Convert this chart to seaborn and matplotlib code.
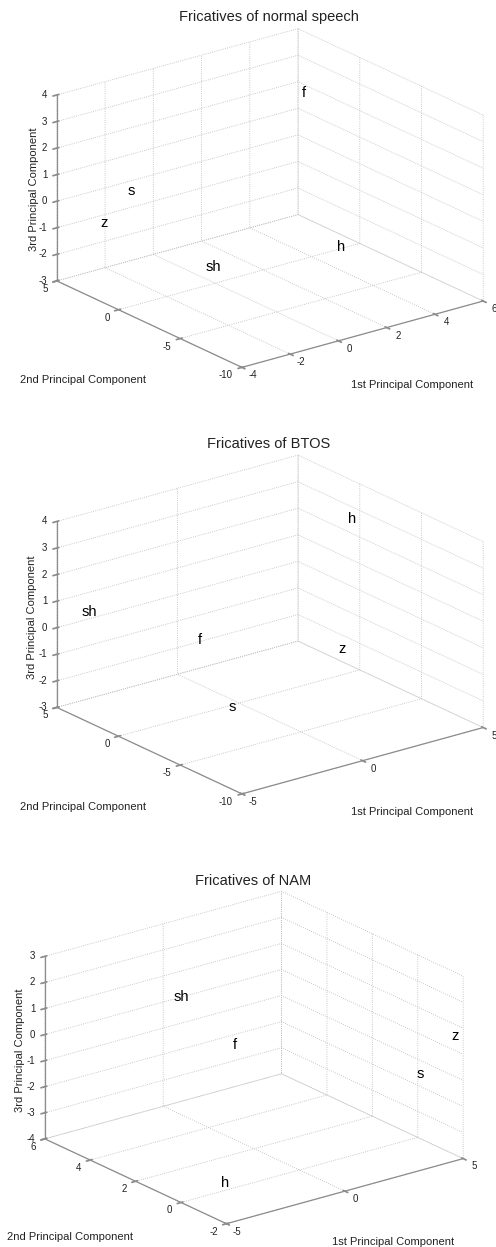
import matplotlib
matplotlib.use("Agg")
import matplotlib.pyplot as plt
from mpl_toolkits.mplot3d import proj3d
import seaborn as sns
import numpy as np

sns.set_theme(style="white", rc={
    "grid.linestyle": ":",
    "grid.color": "#b8b8b8",
    "grid.linewidth": 0.6,
})
plt.rcParams["font.family"] = ["Liberation Sans", "DejaVu Sans"]
plt.rcParams["axes.unicode_minus"] = False

# Fricative positions in the space of the first three principal components
phonemes_normal = ["f", "s", "z", "sh", "h"]
pc1_normal = [3.1, -2.6, -3.2, -1.4, 3.0]
pc2_normal = [-1.0, 2.0, 3.0, -2.0, -4.0]
pc3_normal = [3.6, 0.7, -0.6, -1.6, -1.5]

phonemes_btos = ["h", "sh", "f", "z", "s"]
pc1_btos = [4.5, -4.5, -1.7, 3.1, -3.0]
pc2_btos = [0.0, 4.0, 0.0, -2.0, -5.0]
pc3_btos = [2.8, 0.7, -0.2, -1.3, -1.3]

phonemes_nam = ["sh", "f", "z", "s", "h"]
pc1_nam = [-1.5, -0.9, 4.7, 4.0, -3.1]
pc2_nam = [4.0, 2.0, -1.8, -1.0, 0.2]
pc3_nam = [1.4, 0.2, 0.7, -0.9, -3.8]

# Axis ranges and ticks per panel
titles = ["Fricatives of normal speech", "Fricatives of BTOS", "Fricatives of NAM"]
xlims = [(-4, 6), (-5, 5), (-5, 5)]
ylims = [(-10, 5), (-10, 5), (-2, 6)]
zlims = [(-3, 4), (-3, 4), (-4, 3)]
xticks = [[-4, -2, 0, 2, 4, 6], [-5, 0, 5], [-5, 0, 5]]
yticks = [[-10, -5, 0, 5], [-10, -5, 0, 5], [-2, 0, 2, 4, 6]]
zticks = [list(range(-3, 5)), list(range(-3, 5)), list(range(-4, 4))]

panels = [
    (phonemes_normal, pc1_normal, pc2_normal, pc3_normal),
    (phonemes_btos, pc1_btos, pc2_btos, pc3_btos),
    (phonemes_nam, pc1_nam, pc2_nam, pc3_nam),
]

W, H = 496, 1247
fig = plt.figure(figsize=(W / 100, H / 100), dpi=100)

# layout (pixels, top-origin): centre of the projected box, square size, zoom
S = 380
centres = [(270, 198), (270, 624.5), (254, 1057.5)]
zooms = [1.07 * 430 / S, 1.07 * 430 / S, 1.05 * 430 / S]
title_pos = [(269, 17), (269, 444), (253, 881)]
lab2_pos = [(83, 380), (83, 807), (70, 1237)]
lab1_pos = [(412, 385), (412, 812), (393, 1242)]
lab3_pos = [(34, 189), (32, 617), (20, 1050)]

axis_grey = "#8c8c8c"
text_dark = "#222222"
tick_fs = 7


def label_at(ax, x, y, z, s, **kw):
    """Write a label at a 3-D data point, projected with the axes' view."""
    px, py, _ = proj3d.proj_transform(x, y, z, ax.get_proj())
    return ax.text2D(px, py, s, transform=ax.transData, **kw)


for i, (labels, xs, ys, zs) in enumerate(panels):
    cx, cy = centres[i]
    left = (cx - 0.5135 * S) / W
    bottom = ((H - cy) - 0.5135 * S) / H
    ax = fig.add_axes([left, bottom, S / W, S / H], projection="3d")
    ax.set_proj_type("ortho")
    ax.view_init(elev=21, azim=-127.5)
    ax.set_box_aspect((1, 1, 0.655), zoom=zooms[i])

    x0, x1 = xlims[i]
    y0, y1 = ylims[i]
    z0, z1 = zlims[i]
    xr, yr, zr = x1 - x0, y1 - y0, z1 - z0
    ax.set_xlim(x0, x1)
    ax.set_ylim(y0, y1)
    ax.set_zlim(z0, z1)
    ax.set_xticks(xticks[i])
    ax.set_yticks(yticks[i])
    ax.set_zticks(zticks[i])

    # built-in tick labels are replaced by the texts drawn below
    ax.tick_params(axis="both", colors=axis_grey, labelbottom=False,
                   labelleft=False)
    ax.tick_params(axis="z", colors=axis_grey, labelleft=False)

    for axis in (ax.xaxis, ax.yaxis, ax.zaxis):
        axis.set_pane_color((1, 1, 1, 0))
        axis.pane.set_edgecolor("none")
        axis.line.set_color(axis_grey)
        axis.line.set_linewidth(0.9)
        axis.label.set_visible(False)
        axis.offsetText.set_visible(False)
    for t in (ax.title, ax._left_title, ax._right_title):
        t.set_visible(False)
    ax.grid(True)

    # tick labels placed just outside the front edges of the box
    for t in xticks[i]:
        label_at(ax, t, y0 - 0.06 * yr, z0 - 0.015 * zr, str(t), ha="center",
                 va="center", fontsize=tick_fs, color=text_dark)
    for t in yticks[i]:
        label_at(ax, x0 - 0.037 * xr, t, z0 - 0.03 * zr, str(t), ha="right",
                 va="center", fontsize=tick_fs, color=text_dark)
    for t in zticks[i]:
        label_at(ax, x0 - 0.025 * xr, y1 + 0.019 * yr, t, str(t), ha="right",
                 va="center", fontsize=tick_fs, color=text_dark)

    for lab, x, y, z in zip(labels, xs, ys, zs):
        label_at(ax, x, y, z, lab, ha="left", va="center", fontsize=10.5,
                 color="black")

    tx, ty = title_pos[i]
    fig.text(tx / W, 1 - ty / H, titles[i], ha="center", va="center",
             fontsize=10.5, color=text_dark)
    lx, ly = lab2_pos[i]
    fig.text(lx / W, 1 - ly / H, "2nd Principal Component", ha="center",
             va="center", fontsize=8, color=text_dark)
    lx, ly = lab1_pos[i]
    fig.text(lx / W, 1 - ly / H, "1st Principal Component", ha="center",
             va="center", fontsize=8, color=text_dark)
    lx, ly = lab3_pos[i]
    fig.text(lx / W, 1 - ly / H, "3rd Principal Component", ha="center",
             va="center", rotation=90, fontsize=8, color=text_dark)

fig.savefig("out.png", dpi=100, facecolor="white")
